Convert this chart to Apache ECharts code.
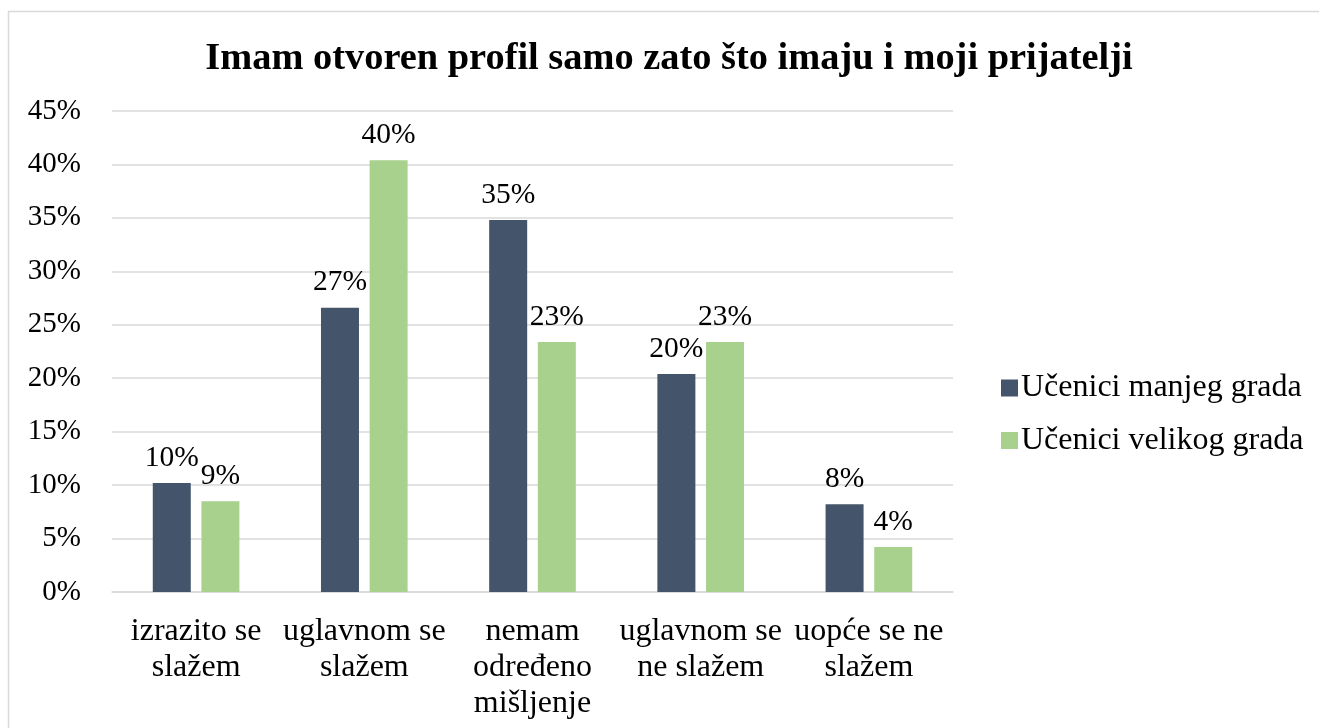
<!DOCTYPE html>
<html>
<head>
<meta charset="utf-8">
<script src="https://cdn.jsdelivr.net/npm/echarts@6/dist/echarts.min.js"></script>
<style>
html,body{margin:0;padding:0;background:#fff;}
#chart{width:1319px;height:728px;}
</style>
</head>
<body>
<div id="chart"></div>
<script>
const titleText = 'Imam otvoren profil samo zato što imaju i moji prijatelji';
const categories = ['izrazito se\nslažem', 'uglavnom se\nslažem', 'nemam\nodređeno\nmišljenje', 'uglavnom se\nne slažem', 'uopće se ne\nslažem'];
const seriesNames = ['Učenici manjeg grada', 'Učenici velikog grada'];
const smallTown = [10.2, 26.6, 34.8, 20.4, 8.2];
const bigTown = [8.5, 40.4, 23.4, 23.4, 4.2];
const yTicks = [0, 5, 10, 15, 20, 25, 30, 35, 40, 45];

const FONT = '"Liberation Serif", "Times New Roman", serif';
const chart = echarts.init(document.getElementById('chart'));
const labelCfg = {
  show: true,
  position: 'top',
  distance: 10,
  fontFamily: FONT,
  fontSize: 29.5,
  color: '#000',
  formatter: p => Math.round(p.value) + '%'
};
chart.setOption({
  backgroundColor: '#fff',
  animation: false,
  graphic: [{
    type: 'rect',
    shape: {x: 8.5, y: 11.5, width: 1330, height: 740},
    style: {fill: 'none', stroke: '#d9d9d9', lineWidth: 1.5},
    silent: true
  }],
  title: {
    text: titleText,
    left: 664,
    textAlign: 'center',
    top: 35,
    textStyle: {fontFamily: FONT, fontWeight: 'bold', fontSize: 38.4, color: '#000'}
  },
  legend: {
    orient: 'vertical',
    left: 996,
    top: 365,
    itemWidth: 17,
    itemHeight: 17,
    itemGap: 16.5,
    icon: 'rect',
    textStyle: {fontFamily: FONT, fontSize: 32, color: '#000', lineHeight: 36, padding: [0, 0, 0, -2]},
    data: seriesNames
  },
  grid: {left: 112, right: 366, top: 111, bottom: 136, containLabel: false},
  xAxis: {
    type: 'category',
    data: categories,
    axisLine: {show: true, lineStyle: {color: '#d9d9d9', width: 1.5}},
    axisTick: {show: false},
    axisLabel: {fontFamily: FONT, fontSize: 32, color: '#000', lineHeight: 36, margin: 22, interval: 0}
  },
  yAxis: {
    type: 'value',
    min: 0,
    max: 45,
    interval: 5,
    axisLine: {show: false},
    axisTick: {show: false},
    splitLine: {lineStyle: {color: '#d9d9d9', width: 1.5}},
    axisLabel: {fontFamily: FONT, fontSize: 29, color: '#000', margin: 31,
      formatter: v => (yTicks.indexOf(v) >= 0 ? v + '%' : '')}
  },
  series: [
    {name: seriesNames[0], type: 'bar', data: smallTown, barWidth: 38, barGap: '28%',
     itemStyle: {color: '#44546A'}, label: labelCfg},
    {name: seriesNames[1], type: 'bar', data: bigTown, barWidth: 38, barGap: '28%',
     itemStyle: {color: '#A9D18E'}, label: labelCfg}
  ]
});
</script>
</body>
</html>
